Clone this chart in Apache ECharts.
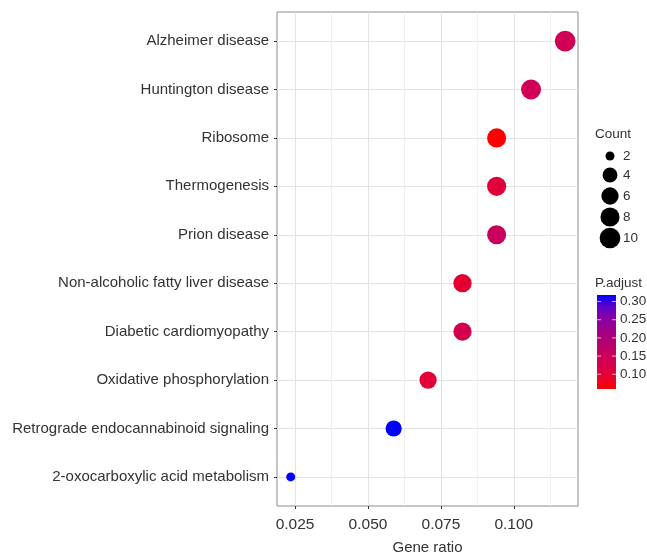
<!DOCTYPE html>
<html>
<head>
<meta charset="utf-8">
<script src="https://cdn.jsdelivr.net/npm/echarts@6/dist/echarts.min.js"></script>
<style>html,body{margin:0;padding:0;background:#fff;}#c{width:647px;height:556px;}</style>
</head>
<body>
<div id="c"></div>
<script>
// ---- data ----
const categories = [
  'Alzheimer disease',
  'Huntington disease',
  'Ribosome',
  'Thermogenesis',
  'Prion disease',
  'Non-alcoholic fatty liver disease',
  'Diabetic cardiomyopathy',
  'Oxidative phosphorylation',
  'Retrograde endocannabinoid signaling',
  '2-oxocarboxylic acid metabolism'
];
const geneRatio = [0.1176, 0.1059, 0.0941, 0.0941, 0.0941, 0.0824, 0.0824, 0.0706, 0.0588, 0.0235];
const counts    = [10, 9, 8, 8, 8, 7, 7, 6, 5, 2];
const pAdjust   = [0.142, 0.142, 0.0595, 0.106, 0.156, 0.096, 0.134, 0.101, 0.318, 0.318];
const xMajorTicks = [0.025, 0.050, 0.075, 0.100];
const xMinorTicks = [0.0375, 0.0625, 0.0875, 0.1125];
const countLegend = [2, 4, 6, 8, 10];
const pLegendTicks = [0.10, 0.15, 0.20, 0.25, 0.30];

// ---- styles ----
const X_MIN = 0.0188, X_MAX = 0.1220;
const P_MIN = 0.0595, P_MAX = 0.318;
const C_MIN = 2, C_MAX = 10;
const palette = ['#FF0000','#E8002E','#D8004A','#C8005E','#B40072','#A0008A','#8800A4','#6000C8','#0000FF'];
const FONT = '"Liberation Sans", Arial, Helvetica, sans-serif';
const TXT = '#333333';
function dotSize(c) {
  const s = 1 + 5 * Math.sqrt((c - C_MIN) / (C_MAX - C_MIN));
  return 2.34 * s + 6.66;
}
const n = categories.length;
const yTicks = categories.map((_, i) => i + 1);

const seriesData = categories.map((c, i) => [geneRatio[i], n - i, pAdjust[i], counts[i]]);

// legend graphics
const graphics = [];
graphics.push({type:'text', left:595, top:127, style:{text:'Count', font:'13.5px ' + FONT, fill:TXT}});
const countY = [156, 175, 196, 217, 238];
countLegend.forEach((c, k) => {
  graphics.push({type:'circle', shape:{cx:610, cy:countY[k], r:dotSize(c)/2}, style:{fill:'#000'}});
  graphics.push({type:'text', x:623, y:countY[k], style:{text:String(c), font:'13.5px ' + FONT, fill:TXT, verticalAlign:'middle', align:'left'}});
});
graphics.push({type:'text', left:595, top:276, style:{text:'P.adjust', font:'13.5px ' + FONT, fill:TXT}});
const barX = 597, barY = 295, barW = 19, barH = 94;
graphics.push({type:'rect', shape:{x:barX, y:barY, width:barW, height:barH},
  style:{fill:new echarts.graphic.LinearGradient(0, 1, 0, 0,
    palette.map((col, k) => ({offset:k/(palette.length-1), color:col})))}});
pLegendTicks.forEach(v => {
  const yy = barY + barH - (v - P_MIN) / (P_MAX - P_MIN) * barH;
  graphics.push({type:'line', shape:{x1:barX, y1:yy, x2:barX+4, y2:yy}, style:{stroke:'#fff', lineWidth:1, opacity:0.7}});
  graphics.push({type:'line', shape:{x1:barX+barW-4, y1:yy, x2:barX+barW, y2:yy}, style:{stroke:'#fff', lineWidth:1, opacity:0.7}});
  graphics.push({type:'text', x:620, y:yy, style:{text:v.toFixed(2), font:'13.5px ' + FONT, fill:TXT, verticalAlign:'middle', align:'left'}});
});

const chart = echarts.init(document.getElementById('c'), null, {renderer:'canvas'});
chart.setOption({
  animation:false,
  backgroundColor:'#fff',
  textStyle:{fontFamily:FONT},
  grid:{left:277, right:69, top:12, bottom:50, show:true, borderColor:'#8c8c8c', borderWidth:1,
    backgroundColor:'transparent', containLabel:false, outerBoundsMode:'none'},
  xAxis:[{
    type:'value', min:X_MIN, max:X_MAX, position:'bottom',
    name:'Gene ratio', nameLocation:'middle', nameGap:34,
    nameTextStyle:{fontSize:15, color:TXT, fontFamily:FONT},
    axisLine:{show:false},
    axisTick:{show:true, length:3, inside:false, customValues:xMajorTicks, lineStyle:{color:'#333', width:1}},
    axisLabel:{customValues:xMajorTicks, fontSize:15.5, color:TXT, margin:11, fontFamily:FONT,
      formatter:v => v.toFixed(3)},
    splitLine:{show:true, lineStyle:{color:'#e3e3e3', width:1}}
  },{
    type:'value', min:X_MIN, max:X_MAX, position:'bottom', offset:0,
    axisLine:{show:false}, axisTick:{show:false, customValues:xMinorTicks},
    axisLabel:{show:false},
    splitLine:{show:true, lineStyle:{color:'#f0f0f0', width:1}}
  }],
  yAxis:{
    type:'value', min:0.4, max:10.6,
    axisLine:{show:false},
    axisTick:{show:true, length:3, customValues:yTicks, lineStyle:{color:'#333', width:1}},
    axisLabel:{customValues:yTicks, fontSize:15, color:TXT, margin:8, fontFamily:FONT,
      formatter:v => categories[n - Math.round(v)]},
    splitLine:{show:true, lineStyle:{color:'#e3e3e3', width:1}}
  },
  visualMap:{type:'continuous', show:false, dimension:2, min:P_MIN, max:P_MAX, seriesIndex:0,
    inRange:{color:palette}},
  series:[{
    type:'scatter', xAxisIndex:0, yAxisIndex:0,
    data:seriesData,
    symbol:'circle',
    symbolSize:d => dotSize(d[3]),
    itemStyle:{opacity:1}
  }],
  graphic:graphics
});
</script>
</body>
</html>
